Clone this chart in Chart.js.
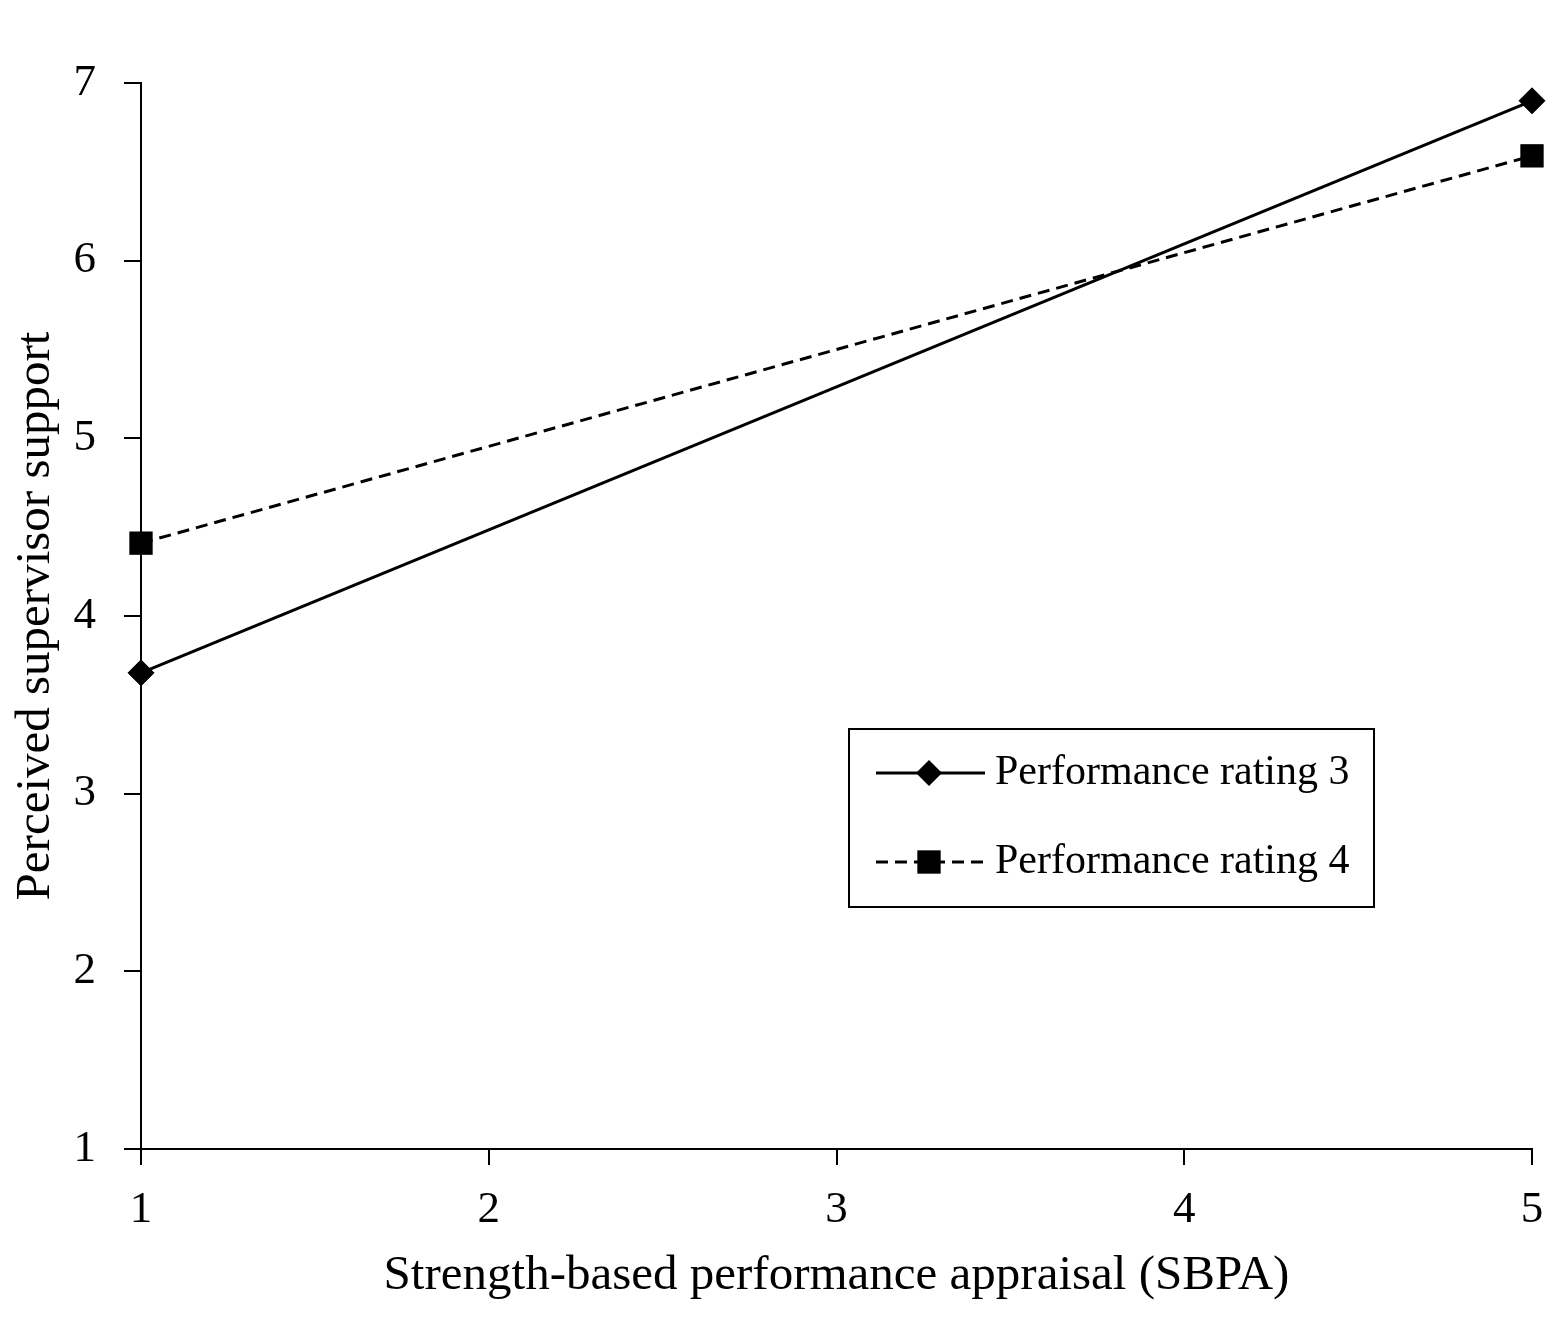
<!DOCTYPE html>
<html>
<head>
<meta charset="utf-8">
<script src="https://cdn.jsdelivr.net/npm/chart.js@4.4.0/dist/chart.umd.min.js"></script>
<style>
  html, body { margin: 0; padding: 0; background: #fff; }
  #wrap { width: 1559px; height: 1318px; }
</style>
</head>
<body>
<div id="wrap"><canvas id="chart"></canvas></div>
<script>
// data
const sbpa = [1, 5];
const rating3 = [3.68, 6.90];
const rating4 = [4.41, 6.59];
const seriesLabels = ['Performance rating 3', 'Performance rating 4'];
const yTicks = [1, 2, 3, 4, 5, 6, 7];
const xTicks = [1, 2, 3, 4, 5];

const serif = '"Liberation Serif", "DejaVu Serif", serif';

// legend box drawn inside the plot, Excel style
const boxLegend = {
    id: 'boxLegend',
    afterDraw(chart){
        const ctx = chart.ctx;
        const x0 = 849, y0 = 729, w = 525, h = 178;
        ctx.save();
        ctx.fillStyle = '#fff';
        ctx.fillRect(x0, y0, w, h);
        ctx.strokeStyle = '#000';
        ctx.lineWidth = 2;
        ctx.strokeRect(x0, y0, w, h);
        const rows = [y0 + 44, y0 + 133];
        chart.data.datasets.forEach((ds, i) => {
            const yy = rows[i];
            ctx.beginPath();
            ctx.lineWidth = 3;
            ctx.setLineDash(ds.borderDash || []);
            ctx.moveTo(x0 + 27, yy);
            ctx.lineTo(x0 + 136, yy);
            ctx.stroke();
            ctx.setLineDash([]);
            ctx.fillStyle = '#000';
            Chart.helpers.drawPoint(ctx, {pointStyle: ds.pointStyle, radius: ds.pointRadius, borderWidth: 0}, x0 + 80, yy);
            ctx.font = '42px ' + serif;
            ctx.textBaseline = 'middle';
            ctx.textAlign = 'left';
            ctx.fillText(ds.label, x0 + 146, yy);
        });
        ctx.restore();
    }
};

const axisFont = { family: serif, size: 45 };
const titleFont = { family: serif, size: 49 };

new Chart(document.getElementById('chart'), {
    type: 'line',
    data: {
        datasets: [{
            label: seriesLabels[0],
            data: sbpa.map((x, i) => ({ x, y: rating3[i] })),
            borderColor: '#000',
            backgroundColor: '#000',
            borderWidth: 3,
            pointStyle: 'rectRot',
            pointRadius: 13,
            pointBackgroundColor: '#000',
            pointBorderColor: '#000',
            pointBorderWidth: 1,
            clip: false,
            tension: 0
        }, {
            label: seriesLabels[1],
            data: sbpa.map((x, i) => ({ x, y: rating4[i] })),
            borderColor: '#000',
            backgroundColor: '#000',
            borderWidth: 3,
            borderDash: [12, 7],
            pointStyle: 'rect',
            pointRadius: 16.5,
            pointBackgroundColor: '#000',
            pointBorderColor: '#000',
            pointBorderWidth: 0,
            clip: false,
            tension: 0
        }]
    },
    options: {
        responsive: true,
        maintainAspectRatio: false,
        animation: false,
        devicePixelRatio: 1,
        layout: { padding: { top: 83, right: 27, left: 0, bottom: 0 } },
        plugins: { legend: { display: false }, tooltip: { enabled: false } },
        scales: {
            x: {
                type: 'linear',
                min: 1, max: 5,
                afterBuildTicks: ax => { ax.ticks = xTicks.map(v => ({ value: v })); },
                afterFit: ax => { ax.height = 1318 - 1149; ax.paddingRight = 0; ax.paddingLeft = 0; },
                grid: { drawOnChartArea: false, drawTicks: true, tickLength: 16, color: '#000', lineWidth: 2 },
                border: { display: true, color: '#000', width: 2 },
                ticks: { color: '#000', font: axisFont, padding: 18, maxRotation: 0 },
                title: { display: true, text: 'Strength-based performance appraisal (SBPA)', color: '#000', font: titleFont, padding: { top: 0, bottom: 12 } }
            },
            y: {
                min: 1, max: 7,
                afterBuildTicks: ax => { ax.ticks = yTicks.map(v => ({ value: v })); },
                afterFit: ax => { ax.width = 141; ax.paddingTop = 0; ax.paddingBottom = 0; },
                grid: { drawOnChartArea: false, drawTicks: true, tickLength: 17, color: '#000', lineWidth: 2 },
                border: { display: true, color: '#000', width: 2 },
                ticks: { color: '#000', font: axisFont, padding: 28 },
                title: { display: true, text: 'Perceived supervisor support', color: '#000', font: titleFont, padding: { top: 7, bottom: 0 } }
            }
        }
    },
    plugins: [boxLegend]
});
</script>
</body>
</html>
